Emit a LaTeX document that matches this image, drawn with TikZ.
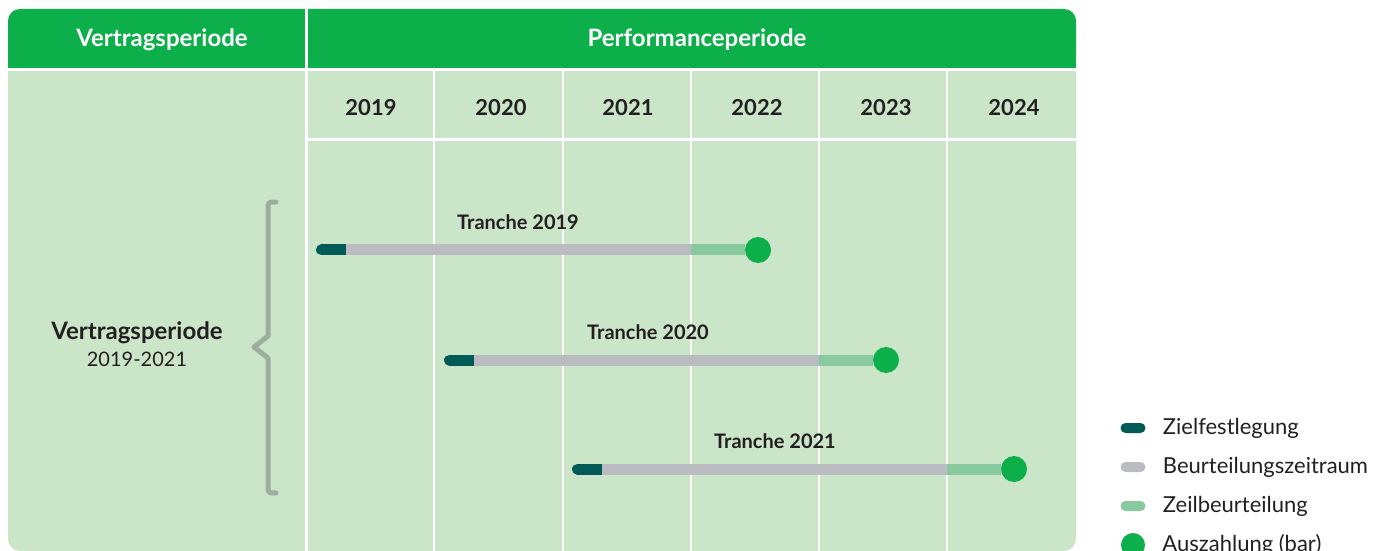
\documentclass[tikz,border=0pt]{standalone}
\usepackage{fontspec}
\setmainfont{Lato}
\usepackage{xcolor}
\definecolor{headgreen}{HTML}{0DAF4B}
\definecolor{paleground}{HTML}{CBE5C8}
\definecolor{goaldark}{HTML}{005A55}
\definecolor{reviewgrey}{HTML}{BBBCC1}
\definecolor{evalgreen}{HTML}{88C9A0}
\definecolor{payoutgreen}{HTML}{0DAF4B}
\definecolor{bracegrey}{HTML}{9EAE9E}
\definecolor{textdark}{HTML}{231F20}
\usepackage{tikz}
\usetikzlibrary{positioning,calc}
\tikzset{
  headlbl/.style={font=\fontsize{12}{14}\selectfont\bfseries, text=white},
  yearlbl/.style={font=\fontsize{11}{13}\selectfont\bfseries, text=textdark},
  tranchelbl/.style={font=\fontsize{10}{12}\selectfont\bfseries, text=textdark},
  periodlbl/.style={font=\fontsize{12}{14}\selectfont\bfseries, text=textdark},
  periodyrs/.style={font=\fontsize{10}{12}\selectfont, text=textdark},
  legendlbl/.style={font=\fontsize{11}{13}\selectfont, text=textdark, anchor=west},
  gridline/.style={draw=white, line width=1.5pt},
  yearline/.style={draw=white, line width=1pt},
  goalseg/.style={draw=goaldark, line width=5.5pt, line cap=round},
  reviewseg/.style={draw=reviewgrey, line width=5.5pt},
  evalseg/.style={draw=evalgreen, line width=5.5pt},
  payout/.style={circle, fill=payoutgreen, minimum size=13pt, inner sep=0pt},
  legpill/.style={rectangle, rounded corners=2.5pt, minimum width=12.5pt,
                  minimum height=5pt, inner sep=0pt},
  bracepath/.style={draw=bracegrey, line width=2.5pt, line cap=round, line join=round},
}

\begin{document}
\begin{tikzpicture}[x=0.5pt, y=-0.5pt]
  \useasboundingbox (0,0) rectangle (1383,551);

  % table ground and header band
  \fill[paleground, rounded corners=6pt] (8,9) rectangle (1076,551);
  \fill[headgreen, rounded corners=6pt] (8,9) rectangle (1076,70);
  \fill[headgreen] (8,40) rectangle (1076,70);

  % grid
  \draw[gridline] (8,70) -- (1076,70);
  \draw[gridline] (306,9) -- (306,551);
  \draw[gridline] (306,140) -- (1076,140);
  \draw[yearline] (434,70) -- (434,551);
  \draw[yearline] (563,70) -- (563,551);
  \draw[yearline] (691,70) -- (691,551);
  \draw[yearline] (819,70) -- (819,551);
  \draw[yearline] (947,70) -- (947,551);

  \node[headlbl] (hvertrag) at (162,40) {Vertragsperiode};
  \node[headlbl] (hperf)    at (697,40) {Performanceperiode};

  \node[yearlbl] (y2019) at (371,108)  {2019};
  \node[yearlbl] (y2020) at (501,108)  {2020};
  \node[yearlbl] (y2021) at (628,108)  {2021};
  \node[yearlbl] (y2022) at (757,108)  {2022};
  \node[yearlbl] (y2023) at (886,108)  {2023};
  \node[yearlbl] (y2024) at (1014,108) {2024};

  % contract period with brace
  \node[periodlbl] (period)  at (137,333) {Vertragsperiode};
  \node[periodyrs] (periodyr) at (137,359) {2019-2021};
  \draw[bracepath] (276,202) .. controls (268,202) .. (268,210) -- (268,336)
    -- (254,347) -- (268,358) -- (268,485) .. controls (268,493) .. (276,493);

  % tranche 2019
  \coordinate (t19a) at (321.5,250);
  \coordinate (t19b) at (346,250);
  \coordinate (t19c) at (691,250);
  \node[payout] (p19) at (758,250) {};
  \draw[goalseg]   (t19a) -- (t19b);
  \draw[reviewseg] (t19b) -- (t19c);
  \draw[evalseg]   (t19c) -- (p19);
  \node[tranchelbl] (l19) at (518,222) {Tranche 2019};

  % tranche 2020
  \coordinate (t20a) at (449.5,360);
  \coordinate (t20b) at (474,360);
  \coordinate (t20c) at (819,360);
  \node[payout] (p20) at (886,360) {};
  \draw[goalseg]   (t20a) -- (t20b);
  \draw[reviewseg] (t20b) -- (t20c);
  \draw[evalseg]   (t20c) -- (p20);
  \node[tranchelbl] (l20) at (648,332) {Tranche 2020};

  % tranche 2021
  \coordinate (t21a) at (577.5,469);
  \coordinate (t21b) at (602,469);
  \coordinate (t21c) at (947,469);
  \node[payout] (p21) at (1014,469) {};
  \draw[goalseg]   (t21a) -- (t21b);
  \draw[reviewseg] (t21b) -- (t21c);
  \draw[evalseg]   (t21c) -- (p21);
  \node[tranchelbl] (l21) at (775,441) {Tranche 2021};

  % legend
  \node[legpill, fill=goaldark]   (kgoal)   at (1133,428) {};
  \node[legpill, fill=reviewgrey] (kreview) at (1133,467) {};
  \node[legpill, fill=evalgreen]  (keval)   at (1133,506) {};
  \node[payout, minimum size=12pt] (kpay)   at (1133,545) {};
  \node[legendlbl, right=5pt of kgoal]   {Zielfestlegung};
  \node[legendlbl, right=5pt of kreview] {Beurteilungszeitraum};
  \node[legendlbl, right=5pt of keval]   {Zeilbeurteilung};
  \node[legendlbl, right=5pt of kpay]    {Auszahlung (bar)};
\end{tikzpicture}
\end{document}
